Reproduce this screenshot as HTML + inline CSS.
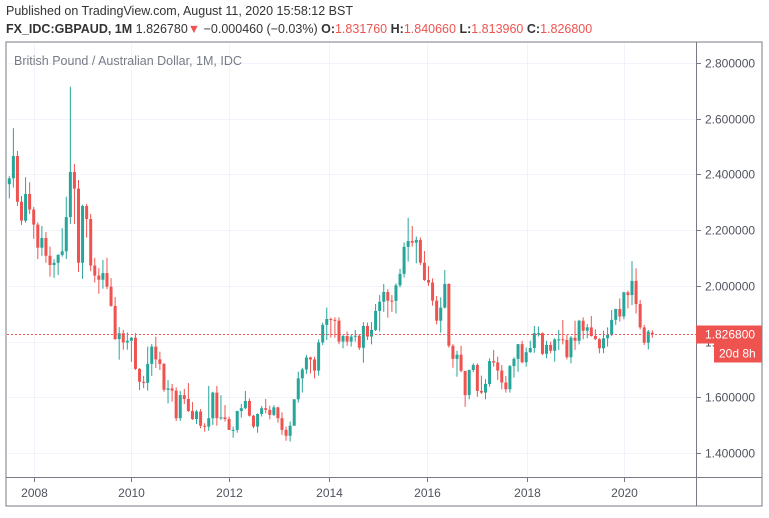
<!DOCTYPE html>
<html><head><meta charset="utf-8">
<style>
body{margin:0;background:#fff;width:769px;height:513px;overflow:hidden;font-family:"Liberation Sans",sans-serif;}
svg text{font-family:"Liberation Sans",sans-serif;}
</style></head>
<body>
<svg id="chart" width="769" height="513" xmlns="http://www.w3.org/2000/svg">
<text x="6" y="15" font-size="12.5" fill="#333">Published on TradingView.com, August 11, 2020 15:58:12 BST</text>
<text x="6" y="33" font-size="12.5" fill="#333"><tspan font-weight="bold">FX_IDC:GBPAUD, 1M</tspan> 1.826780<tspan fill="#ef5350">▼</tspan> −0.000460 (−0.03%) <tspan font-weight="bold">O:</tspan><tspan fill="#ef5350">1.831760</tspan> <tspan font-weight="bold">H:</tspan><tspan fill="#ef5350">1.840660</tspan> <tspan font-weight="bold">L:</tspan><tspan fill="#ef5350">1.813960</tspan> <tspan font-weight="bold">C:</tspan><tspan fill="#ef5350">1.826800</tspan></text>
<rect x="6" y="42" width="756" height="464" fill="none" stroke="#787b86" stroke-width="1"/>
<g id="grid"></g>
<text x="14" y="65" font-size="12.5" fill="#787b86">British Pound / Australian Dollar, 1M, IDC</text>
<g id="candles"></g>
<line x1="696.5" y1="42" x2="696.5" y2="506" stroke="#787b86"/>
<line x1="6" y1="477.5" x2="762" y2="477.5" stroke="#787b86"/>
<g id="axes"></g>
</svg>
<script>
const yTicks=[2.8,2.6,2.4,2.2,2.0,1.8,1.6,1.4];
const yearLabels=["2008","2010","2012","2014","2016","2018","2020"];
const yearIndex=[6,30,54,78.5,102.6,127.2,151];
const lastPrice=1.8268;
const closes=[2.386,2.466,2.302,2.234,2.330,2.274,2.220,2.137,2.172,2.108,
2.075,2.083,2.111,2.124,2.247,2.409,2.349,2.083,2.287,2.240,
2.073,2.037,2.022,2.046,1.997,1.928,1.809,1.830,1.797,1.803,
1.814,1.702,1.656,1.652,1.720,1.782,1.736,1.720,1.627,1.632,
1.624,1.525,1.608,1.594,1.551,1.522,1.549,1.498,1.495,1.525,
1.617,1.525,1.528,1.522,1.483,1.483,1.551,1.561,1.587,1.534,
1.495,1.540,1.561,1.555,1.537,1.564,1.525,1.483,1.462,1.498,
1.593,1.668,1.700,1.743,1.736,1.696,1.797,1.860,1.881,1.878,
1.875,1.800,1.820,1.800,1.818,1.821,1.778,1.856,1.818,1.842,
1.910,1.943,1.978,1.947,1.946,2.002,2.043,2.140,2.161,2.155,
2.165,2.083,2.021,2.012,1.947,1.875,1.922,2.007,1.785,1.738,
1.753,1.695,1.608,1.698,1.716,1.623,1.617,1.648,1.730,1.725,
1.696,1.653,1.629,1.712,1.738,1.791,1.726,1.762,1.777,1.830,
1.830,1.756,1.788,1.767,1.808,1.808,1.806,1.744,1.814,1.803,
1.875,1.839,1.851,1.820,1.809,1.776,1.812,1.824,1.878,1.917,
1.890,1.977,1.967,2.018,1.935,1.851,1.796,1.836,1.8268];
const opens=[2.365,2.386,2.466,2.302,2.234,2.330,2.274,2.220,2.137,2.172,
2.108,2.075,2.083,2.111,2.124,2.247,2.409,2.349,2.083,2.287,
2.240,2.073,2.037,2.022,2.046,1.997,1.928,1.809,1.830,1.797,
1.803,1.814,1.702,1.656,1.652,1.720,1.782,1.736,1.720,1.627,
1.632,1.624,1.525,1.608,1.594,1.551,1.522,1.549,1.498,1.495,
1.525,1.617,1.525,1.528,1.522,1.483,1.483,1.551,1.561,1.587,
1.534,1.495,1.540,1.561,1.555,1.537,1.564,1.525,1.483,1.462,
1.498,1.593,1.668,1.700,1.743,1.736,1.696,1.797,1.860,1.881,
1.878,1.875,1.800,1.820,1.800,1.818,1.821,1.778,1.856,1.818,
1.842,1.910,1.943,1.978,1.947,1.946,2.002,2.043,2.140,2.161,
2.155,2.165,2.083,2.021,2.012,1.947,1.875,1.922,2.007,1.785,
1.738,1.753,1.695,1.608,1.698,1.716,1.623,1.617,1.648,1.730,
1.725,1.696,1.653,1.629,1.712,1.738,1.791,1.726,1.762,1.777,
1.830,1.830,1.756,1.788,1.767,1.808,1.808,1.806,1.744,1.814,
1.803,1.875,1.839,1.851,1.820,1.809,1.776,1.812,1.824,1.878,
1.917,1.890,1.977,1.967,2.018,1.935,1.851,1.796,1.8318];
const highs=[2.394,2.566,2.484,2.323,2.390,2.372,2.283,2.228,2.215,2.193,
2.141,2.096,2.114,2.207,2.320,2.715,2.437,2.380,2.291,2.294,
2.258,2.101,2.064,2.093,2.101,2.028,1.960,1.852,1.842,1.833,
1.817,1.830,1.705,1.677,1.782,1.791,1.817,1.764,1.723,1.662,
1.648,1.636,1.623,1.630,1.651,1.583,1.555,1.558,1.507,1.641,
1.620,1.641,1.608,1.572,1.531,1.495,1.552,1.576,1.623,1.596,
1.537,1.543,1.569,1.594,1.570,1.572,1.566,1.546,1.495,1.513,
1.593,1.692,1.706,1.752,1.746,1.746,1.808,1.868,1.922,1.886,
1.887,1.887,1.824,1.836,1.824,1.842,1.826,1.870,1.868,1.870,
1.935,1.967,2.007,1.988,1.967,2.009,2.061,2.156,2.244,2.215,
2.177,2.174,2.125,2.071,2.027,1.964,1.959,2.057,2.009,1.791,
1.767,1.785,1.694,1.700,1.722,1.722,1.678,1.665,1.740,1.770,
1.746,1.716,1.677,1.716,1.744,1.791,1.803,1.779,1.803,1.856,
1.854,1.833,1.803,1.800,1.812,1.842,1.878,1.824,1.820,1.875,
1.878,1.887,1.863,1.892,1.844,1.812,1.839,1.851,1.913,1.918,
1.955,1.979,1.983,2.089,2.063,1.949,1.860,1.842,1.8407];
const lows=[2.314,2.353,2.287,2.219,2.227,2.258,2.169,2.096,2.108,2.083,
2.033,2.029,2.039,2.105,2.096,2.222,2.222,2.050,2.025,2.173,
2.053,2.012,1.972,1.990,1.988,1.925,1.806,1.735,1.771,1.771,
1.727,1.698,1.626,1.633,1.624,1.677,1.705,1.698,1.620,1.578,
1.584,1.515,1.515,1.576,1.547,1.519,1.504,1.489,1.477,1.480,
1.501,1.498,1.519,1.513,1.483,1.455,1.473,1.527,1.557,1.531,
1.489,1.473,1.531,1.543,1.521,1.533,1.509,1.465,1.444,1.441,
1.498,1.581,1.617,1.684,1.686,1.668,1.678,1.788,1.806,1.815,
1.814,1.791,1.776,1.785,1.782,1.800,1.770,1.724,1.806,1.790,
1.838,1.836,1.907,1.886,1.907,1.901,1.995,2.030,2.087,2.141,
2.081,2.075,2.018,2.000,1.929,1.862,1.832,1.919,1.778,1.706,
1.674,1.690,1.566,1.593,1.690,1.602,1.612,1.593,1.638,1.710,
1.662,1.629,1.617,1.617,1.671,1.692,1.722,1.710,1.760,1.760,
1.818,1.752,1.740,1.758,1.728,1.770,1.790,1.736,1.722,1.770,
1.790,1.808,1.812,1.818,1.806,1.758,1.758,1.782,1.820,1.860,
1.872,1.880,1.919,1.931,1.901,1.844,1.788,1.772,1.814];

const NS="http://www.w3.org/2000/svg";
function yScale(v){return 63+(2.8-v)*278.6;}
function xScale(i){return 9.3+4.07*i;}
function mk(tag,attrs,parent){const e=document.createElementNS(NS,tag);for(const k in attrs)e.setAttribute(k,attrs[k]);parent.appendChild(e);return e;}
const grid=document.getElementById('grid'),cg=document.getElementById('candles'),ax=document.getElementById('axes');
yTicks.forEach(t=>{
  const y=Math.round(yScale(t))+0.5;
  const gl=mk('line',{x1:7,x2:696,y1:y,y2:y,stroke:'#f0f3fa'},grid);
  
  
  const tk=mk('line',{x1:697,x2:701,y1:y,y2:y,stroke:'#787b86'},ax);
  
  
  const tx=mk('text',{x:705,y:y+4,'font-size':12,fill:'#50535e'},ax);
  tx.textContent=t.toFixed(6);
  
  
});
yearLabels.forEach((lab,k)=>{
  const x=Math.round(xScale(yearIndex[k]))+0.5;
  const gl=mk('line',{x1:x,x2:x,y1:43,y2:477,stroke:'#f0f3fa'},grid);
  
  
  const tk=mk('line',{x1:x,x2:x,y1:478,y2:482,stroke:'#787b86'},ax);
  
  
  const tx=mk('text',{x:x,y:497,'font-size':12,fill:'#50535e','text-anchor':'middle'},ax);
  tx.textContent=lab;
  
  
});
closes.forEach((c,i)=>{
  const o=opens[i],up=c>=o,col=up?'#26a69a':'#ef5350';
  const x=xScale(i);
  const g=mk('g',{},cg);
  
  
  mk('line',{x1:x,x2:x,y1:yScale(highs[i]),y2:yScale(lows[i]),stroke:col,'stroke-width':1},g);
  const top=yScale(Math.max(o,c)),bot=yScale(Math.min(o,c));
  mk('rect',{x:x-1.5,y:top,width:3,height:Math.max(1,bot-top),fill:col},g);
});
const ly=Math.round(yScale(lastPrice))+0.5;
const pl=mk('line',{x1:7,x2:696,y1:ly,y2:ly,stroke:'#ef5350','stroke-dasharray':'2,2'},ax);


const lb=mk('rect',{x:696,y:ly-9,width:66,height:18,fill:'#ef5350'},ax);


const lt=mk('text',{x:705,y:ly+4,'font-size':12,fill:'#fff'},ax);
lt.textContent=lastPrice.toFixed(6);


const cb=mk('rect',{x:714,y:ly+9,width:48,height:19,fill:'#ef5350'},ax);


const ct=mk('text',{x:719,y:ly+23,'font-size':12,fill:'#fff'},ax);
ct.textContent='20d 8h';


</script>
</body></html>
